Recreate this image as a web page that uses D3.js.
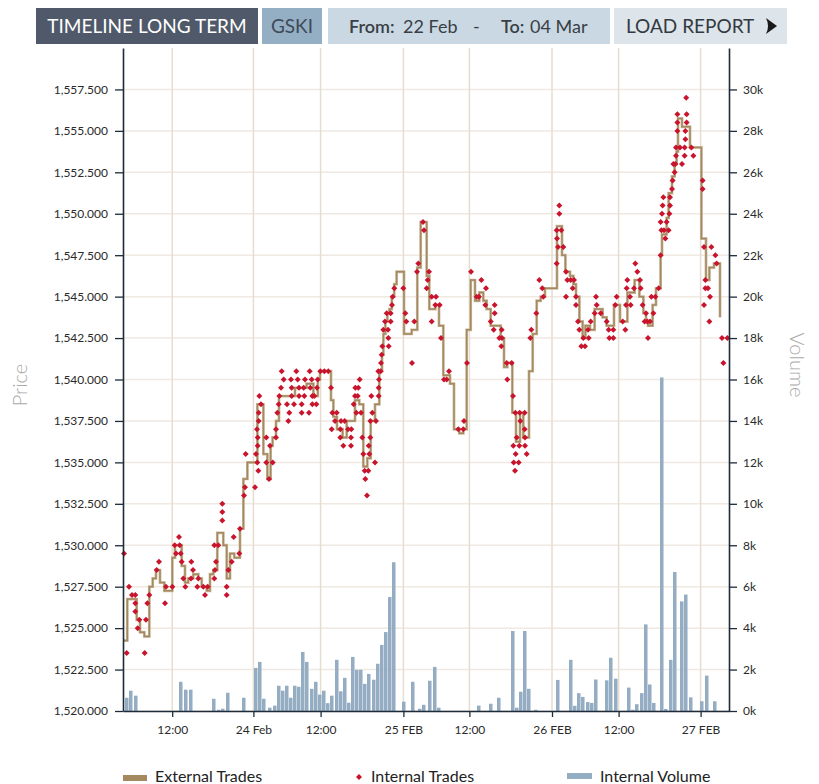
<!DOCTYPE html>
<html>
<head>
<meta charset="utf-8">
<script src="https://cdn.jsdelivr.net/npm/d3@7/dist/d3.min.js"></script>
<style>
  html, body { margin: 0; padding: 0; background: #fff; }
  svg { display: block; font-family: Lato, "Open Sans", sans-serif; }
</style>
</head>
<body>
<svg id="chart" width="819" height="784"></svg>
<script>
// x is a trading period index (one period = one volume bin)
const timeTicks = [11.8, 32.1, 48.9, 69.6, 86.1, 106.75, 123.4, 143.9];
const timeLabels = ["12:00", "24 Feb", "12:00", "25 FEB", "12:00", "26 FEB", "12:00", "27 FEB"];
const priceTicks = [1520, 1522.5, 1525, 1527.5, 1530, 1532.5, 1535, 1537.5, 1540, 1542.5, 1545, 1547.5, 1550, 1552.5, 1555, 1557.5];
const volumeTicks = [0, 2, 4, 6, 8, 10, 12, 14, 16, 18, 20, 22, 24, 26, 28, 30];

// external trades: [period, price], drawn as a step line
const externalTrades = [
  [-0.25, 1524.25], [0.58, 1526.75], [2.92, 1525.5], [3.75, 1524.75], [4.83, 1524.5],
  [6.08, 1527.5], [6.92, 1528], [7.75, 1528.5], [8.75, 1527.75], [9.83, 1527.25],
  [11.83, 1529.25], [12.5, 1530], [14.17, 1528.75], [15, 1527.75], [15.83, 1528],
  [17.08, 1528.25], [18.33, 1528], [19.17, 1527.5], [20.42, 1527.25], [21.25, 1528.25],
  [22.08, 1528.5], [23.08, 1530.75], [24.58, 1530], [25.42, 1528], [26.25, 1529.5],
  [27.33, 1529.25], [28.75, 1531], [29.6, 1534], [30.6, 1535], [33.1, 1538.5],
  [34.6, 1535.5], [35.6, 1534], [36.4, 1536], [36.9, 1536.5], [37.75, 1537.5],
  [38.5, 1539], [42.5, 1539.5], [45.4, 1539.75], [47.1, 1539], [48.2, 1540],
  [48.75, 1540.5], [51.5, 1538.75], [52.1, 1537.75], [53, 1537], [54.4, 1536.5],
  [55.42, 1537.5], [57.5, 1538.75], [58.58, 1538.5], [59.58, 1534.75], [60.58, 1535.25],
  [61.42, 1537.5], [62.5, 1538.5], [63.58, 1540.5], [64.25, 1541.5], [64.6, 1542.75],
  [65.1, 1543.5], [65.6, 1544], [66.1, 1544.25], [66.7, 1545], [67.3, 1545.75],
  [67.9, 1546.5], [69.75, 1542.75], [71.67, 1543], [73.08, 1546.75], [73.92, 1549.5],
  [75.42, 1546.25], [76.08, 1544.25], [77.58, 1544.5], [78.5, 1543.25], [79.58, 1540.25],
  [81.25, 1539.75], [82.25, 1537], [83.58, 1536.75], [84.58, 1537], [85.42, 1543],
  [86.42, 1546], [87.5, 1544.75], [88.58, 1545.25], [89.58, 1544.75], [90.42, 1544.25],
  [91.42, 1543.25], [93.92, 1542.5], [94.75, 1540.75], [95.58, 1541], [96.83, 1538],
  [97.75, 1536.25], [98.75, 1538], [99.58, 1536.5], [101, 1540.5], [101.92, 1542.75],
  [102.92, 1544.75], [103.92, 1545], [105, 1545.5], [108, 1549.25], [109.25, 1547.5],
  [110.1, 1546.5], [111.25, 1546.25], [112.1, 1545.75], [112.75, 1545], [113.6, 1543.5],
  [114.4, 1542.5], [115.1, 1543.25], [116.25, 1543], [117.4, 1544.25], [119.4, 1543.75],
  [120.4, 1543.25], [122.25, 1544.5], [123.75, 1543.5], [125.6, 1545.25], [127.4, 1546],
  [128.6, 1545], [129.6, 1544], [130.25, 1543.5], [130.75, 1543.25], [131.9, 1544.5],
  [132.75, 1545.5], [133.9, 1547.5], [134.25, 1548.75], [135.4, 1549.75], [135.9, 1551.25],
  [136.75, 1552.25], [137.4, 1553], [137.9, 1553.75], [138.25, 1555.75], [139.25, 1555.25],
  [141.25, 1554], [144.1, 1548.5], [145.25, 1546], [146.1, 1546.75], [147.25, 1547],
  [148.75, 1543.75]
];

// internal trades: [period, price]
const internalTrades = [
  [-0.25, 1529.5], [0.42, 1523.5], [1, 1527.5], [1.75, 1527], [2.58, 1527], [2.58, 1526.5],
  [2.58, 1526], [3.17, 1525], [3.58, 1525.5], [4.92, 1523.5], [5.25, 1525.5], [5.58, 1526.5],
  [6.08, 1527], [7.92, 1528.5], [8.5, 1529], [10, 1526.5], [10.25, 1527.5], [11.83, 1527.5],
  [12.42, 1530], [12.75, 1529.5], [13.5, 1530.5], [13.67, 1530], [13.92, 1529.5], [14.17, 1529],
  [14.58, 1528], [15.08, 1527.5], [16.5, 1528], [16.58, 1529], [17, 1528.5], [18.08, 1527.5],
  [18.33, 1528], [19.58, 1527.5], [20, 1527], [20.67, 1527.5], [22.33, 1528], [22.33, 1530],
  [22.5, 1528.5], [22.75, 1529], [23.33, 1530], [24.33, 1532.5], [24.33, 1532], [24.33, 1531.5],
  [25.42, 1527], [25.42, 1527.5], [25.83, 1528.5], [26.67, 1529], [27.17, 1530.5], [28.58, 1529.5],
  [28.75, 1531], [29.75, 1533], [30, 1533.5], [30.17, 1535.5], [32.5, 1533.5], [32.75, 1535.5],
  [33.08, 1535], [33.33, 1534.5], [33.17, 1536], [33.17, 1536.5], [33, 1537], [33.42, 1537.5],
  [33.42, 1538], [34, 1538.5], [33.58, 1539], [35.33, 1536.5], [35.33, 1535], [36.25, 1536],
  [36, 1534], [36.92, 1535], [37.75, 1536.5], [37.75, 1537], [38.08, 1538], [38.42, 1538.5],
  [38.58, 1539], [39, 1539.5], [39.17, 1540.5], [39.67, 1540], [40.5, 1538.5], [40.83, 1537.5],
  [41.08, 1538], [41.5, 1540], [41.67, 1539.5], [41.67, 1539], [42.25, 1538.5], [42.83, 1540.5],
  [43.17, 1540], [43.5, 1539.5], [43.5, 1539], [44.17, 1538.5], [44.17, 1538], [44.67, 1539.5],
  [44.83, 1539], [45, 1540], [46, 1538], [46.17, 1540.5], [46.33, 1539.5], [46.67, 1540],
  [46.83, 1539], [46.83, 1538.5], [47.33, 1539], [47.83, 1538.5], [48, 1539.5], [48.17, 1540],
  [48.83, 1540.5], [49.83, 1540.5], [50.83, 1540.5], [51.5, 1539.5], [51.67, 1537], [51.83, 1538],
  [52.5, 1537.5], [52.92, 1538], [53.83, 1537], [53.83, 1536.5], [54, 1537.5], [54.58, 1536],
  [54.92, 1537.5], [55.75, 1537], [56.5, 1536.5], [56.58, 1537], [56.5, 1536], [57.17, 1538.5],
  [57.5, 1539], [57.58, 1539.5], [58.17, 1539], [58.33, 1539.5], [58.67, 1540], [57.83, 1538],
  [59, 1538], [59.33, 1536.5], [59.58, 1535.5], [59.92, 1534.5], [60.08, 1534], [60.5, 1533],
  [60.83, 1534.5], [61.08, 1535.5], [60.92, 1536], [61.33, 1536.5], [61.33, 1537.5], [61.83, 1538],
  [61.58, 1539], [62.5, 1535], [62.75, 1537.5], [63.42, 1539], [63.42, 1539.5], [63.5, 1540],
  [63.33, 1540.5], [63.92, 1540.5], [64, 1541], [64.17, 1541.5], [64.33, 1542], [64.58, 1543],
  [65, 1543.5], [65.42, 1544], [65.75, 1543], [65.83, 1542.5], [65.92, 1542], [66.42, 1544],
  [66.42, 1543.5], [66.75, 1544.5], [66.92, 1545], [67.33, 1545.5], [69.58, 1545.5], [70.08, 1544],
  [70.33, 1543.5], [71.75, 1541], [72.33, 1543.5], [73, 1546.5], [73.33, 1547], [74.5, 1549.5],
  [74.75, 1549], [76, 1546.5], [75.67, 1546], [75.42, 1545.5], [76.67, 1545], [77.75, 1545],
  [77.58, 1544.5], [78.67, 1544.5], [76.67, 1543.5], [79, 1542.5], [79.75, 1540], [80.42, 1540],
  [81, 1540.5], [83.33, 1537], [84.58, 1537], [84.75, 1537.5], [85.5, 1541], [86.5, 1546.5],
  [87.92, 1545], [88.5, 1545], [89.08, 1546], [90.25, 1545.5], [90.08, 1544.5], [91.42, 1543.5],
  [92.17, 1543], [92.42, 1544.5], [92.42, 1544], [93.58, 1542.5], [94.17, 1543], [94.25, 1542.5],
  [94.08, 1542], [95.42, 1541], [96.67, 1541], [95.58, 1540], [97, 1539], [97.58, 1538],
  [98.67, 1538], [99.92, 1538], [98.83, 1537.5], [97.92, 1536.5], [97.08, 1536], [97.67, 1535.5],
  [97.17, 1535], [98.42, 1535], [97.5, 1534.5], [98.58, 1536], [99.92, 1537], [100, 1536.5],
  [100, 1536], [100.42, 1535.5], [101.33, 1542.5], [101.58, 1543], [102.83, 1544], [103.58, 1546],
  [104.33, 1545.5], [104.58, 1545], [107.92, 1549], [108, 1548.5], [108.25, 1548], [107.92, 1547],
  [108.58, 1550.5], [108.58, 1550], [109.08, 1549], [109.58, 1548], [110.25, 1546.5], [110.25, 1545],
  [110.58, 1546], [111.42, 1546], [111.92, 1545.5], [112.25, 1546], [112.75, 1545], [112.75, 1544.5],
  [113.25, 1543.5], [113.58, 1543], [114.08, 1542], [114.58, 1542.5], [115, 1542], [115.75, 1543],
  [115.92, 1542.5], [116.42, 1543.5], [117.42, 1544], [117.75, 1545], [117.92, 1544.5], [118.92, 1544],
  [120.42, 1543.5], [120.92, 1543], [121.08, 1542.5], [122.08, 1542.5], [122.08, 1543], [122.58, 1544.5],
  [122.92, 1545], [124.42, 1543.5], [125.08, 1543], [125.25, 1544.5], [125.42, 1545.5], [125.58, 1546],
  [126.25, 1545], [126.42, 1544.5], [127.25, 1545.5], [127.58, 1547], [128.08, 1546.5], [128.75, 1546],
  [128.92, 1545.5], [129.4, 1544.5], [130.25, 1544], [129.9, 1543.5], [130.6, 1543.5], [131.25, 1543.5],
  [130.75, 1542.5], [131.6, 1545], [132.1, 1544], [132.6, 1545], [133.4, 1545.5], [133.9, 1547.5],
  [133.9, 1549.5], [134.1, 1549], [134.25, 1550], [134.4, 1550.5], [134.6, 1551], [134.75, 1549],
  [135.1, 1548.5], [135.4, 1549.5], [135.9, 1549], [136.1, 1550], [136.25, 1550.5], [136.25, 1551],
  [136.75, 1551.5], [136.9, 1552], [137.4, 1552.5], [137.1, 1553], [137.6, 1553], [137.75, 1553.5],
  [137.75, 1554], [138.1, 1555], [138.1, 1555.5], [138.1, 1556], [138.75, 1554], [139.25, 1553],
  [139.9, 1554], [139.9, 1553.5], [140.1, 1554.5], [140.1, 1555], [140.4, 1555.5], [140.4, 1556],
  [140.3, 1557], [141.6, 1554], [142.1, 1553.5], [144.4, 1552], [144.4, 1551.5], [144.75, 1548],
  [146.6, 1548], [145.1, 1546], [145.1, 1545.5], [145.75, 1545.5], [146.25, 1545], [144.75, 1544.5],
  [146.1, 1543.5], [147.6, 1547.5], [147.9, 1547], [149.25, 1542.5], [150.6, 1542.5], [149.6, 1541]
];

// internal volume: [period, thousands]
const internalVolume = [
  [0, 0.64], [1, 0.98], [2.25, 0.74], [13.5, 1.41], [14.75, 1.03], [16, 1.03], [21.75, 0.59],
  [23, 0.06], [24, 0.11], [25.25, 0.88], [29.25, 0.64], [32.25, 2.08], [33.25, 2.37], [34.25, 0.59],
  [35.75, 0.16], [37, 0.26], [38, 1.22], [39, 0.98], [40, 1.22], [41, 0.64], [42, 1.22], [43, 1.17],
  [44, 2.85], [45, 2.37], [46.25, 1.07], [47.25, 1.41], [48.25, 0.79], [49.25, 0.98], [50.25, 0.38],
  [51.25, 0.74], [52.5, 2.47], [53.5, 0.95], [54.5, 1.6], [55.5, 0.4], [56.5, 2.61], [57.5, 1.99],
  [58.5, 1.99], [59.5, 1.31], [60.5, 1.79], [61.75, 1.51], [62.75, 2.28], [63.75, 3.19], [64.75, 3.81],
  [65.75, 5.5], [66.75, 7.18], [69.25, 0.45], [71.5, 1.41], [73.25, 0.11], [74.25, 0.3], [75.75, 1.46],
  [77, 2.13], [78, 0.16], [88, 0.26], [91, 0.35], [93, 0.64], [96.5, 3.86], [97.5, 0.16], [98.5, 0.93],
  [99.5, 3.86], [100.5, 1.07], [102.25, 0.06], [107.75, 1.5], [111, 2.47], [112, 0.25], [113, 0.86],
  [114, 0.68], [115.25, 0.43], [116.25, 0.39], [117.25, 1.52], [120, 1.48], [121, 2.57], [122.25, 1.56],
  [125.5, 1.13], [126.5, 0.06], [127.5, 0.33], [128.75, 0.86], [129.75, 4.18], [130.75, 1.28],
  [131.75, 0.39], [133.75, 16.1], [134.75, 0.1], [136, 2.47], [137, 6.71], [138.75, 5.29],
  [139.75, 5.62], [141, 0.66], [143.75, 0.47], [145, 1.71], [147, 0.47]
];

const svg = d3.select("#chart");
const margin = { top: 48, right: 90, bottom: 73, left: 123 },
  width = 819 - margin.left - margin.right,
  height = 784 - margin.top - margin.bottom;

const xScale = d3.scaleLinear().domain([-0.5, 151]).range([0, width]);
const yPrice = d3.scaleLinear().domain([1520, 1560]).range([height, 0]);
const yVolume = d3.scaleLinear().domain([0, 32]).range([height, 0]);

// header buttons
const header = svg.append("g").attr("class", "header");
const buttons = [
  { x: 36, w: 222, fill: "#4f5969" },
  { x: 262, w: 60, fill: "#94aec4" },
  { x: 328, w: 282, fill: "#c9d8e3" },
  { x: 614, w: 173, fill: "#dde4ea" }
];
header.selectAll("rect")
  .data(buttons)
  .enter()
  .append("rect")
  .attr("x", (d) => d.x)
  .attr("y", 8)
  .attr("width", (d) => d.w)
  .attr("height", 36)
  .attr("fill", (d) => d.fill);

header.append("text").attr("x", 147).attr("y", 33).attr("text-anchor", "middle")
  .style("font-size", "19px").attr("fill", "#fff").text("TIMELINE LONG TERM");
header.append("text").attr("x", 292).attr("y", 33).attr("text-anchor", "middle")
  .style("font-size", "19px").attr("fill", "#3f4a58").text("GSKI");

const range = header.append("text").attr("y", 33).style("font-size", "18px").attr("fill", "#3a3f46");
range.append("tspan").attr("x", 349).style("font-weight", 600).text("From:");
range.append("tspan").attr("x", 403).text("22 Feb");
range.append("tspan").attr("x", 473).text("-");
range.append("tspan").attr("x", 501).style("font-weight", 600).text("To:");
range.append("tspan").attr("x", 530).text("04 Mar");

header.append("text").attr("x", 626).attr("y", 33)
  .style("font-size", "19px").attr("fill", "#333a42").text("LOAD REPORT");
header.append("path")
  .attr("d", "M766,18 L777,26 L766,34 Q770,26 766,18 Z")
  .attr("fill", "#1a1a1a");

const g = svg.append("g").attr("transform", `translate(${margin.left},${margin.top})`);

// grid
g.append("g").attr("class", "grid-h")
  .selectAll("line")
  .data(priceTicks)
  .enter()
  .append("line")
  .attr("x1", 0).attr("x2", width)
  .attr("y1", (d) => yPrice(d)).attr("y2", (d) => yPrice(d))
  .attr("stroke", "#efe9e2").attr("stroke-width", 1.5);

g.append("g").attr("class", "grid-v")
  .selectAll("line")
  .data(timeTicks)
  .enter()
  .append("line")
  .attr("x1", (d) => xScale(d)).attr("x2", (d) => xScale(d))
  .attr("y1", 0).attr("y2", height)
  .attr("stroke", "#e6ddd1").attr("stroke-width", 1.5);

// volume bars
const barW = xScale(0.88) - xScale(0);
g.append("g").attr("class", "volume")
  .selectAll("rect")
  .data(internalVolume)
  .enter()
  .append("rect")
  .attr("x", (d) => xScale(d[0]))
  .attr("y", (d) => yVolume(d[1]))
  .attr("width", barW)
  .attr("height", (d) => height - yVolume(d[1]))
  .attr("fill", "#94adc3");

// external trades step line
const line = d3.line()
  .x((d) => xScale(d[0]))
  .y((d) => yPrice(d[1]))
  .curve(d3.curveStepAfter);

g.append("path")
  .datum(externalTrades)
  .attr("fill", "none")
  .attr("stroke", "#cdbb9e")
  .attr("stroke-width", 2.8)
  .attr("d", line);
g.append("path")
  .datum(externalTrades)
  .attr("fill", "none")
  .attr("stroke", "#a38961")
  .attr("stroke-width", 1.5)
  .attr("d", line);

// internal trades
const diamond = d3.symbol().type(d3.symbolSquare).size(18);
g.append("g").attr("class", "internal")
  .selectAll("path")
  .data(internalTrades)
  .enter()
  .append("path")
  .attr("d", diamond)
  .attr("transform", (d) => `translate(${xScale(d[0])},${yPrice(d[1])}) rotate(45)`)
  .attr("fill", "#c8142c");

// axes
const styleAxis = (sel) => {
  sel.select(".domain").attr("stroke", "#1d2b3a").attr("stroke-width", 1.6);
  sel.selectAll(".tick line").attr("stroke", "#1d2b3a").attr("stroke-width", 1.3);
  sel.selectAll(".tick text").attr("fill", "#2a2a2a").style("font-size", "12px")
    .style("font-family", "Lato, 'Open Sans', sans-serif");
};

g.append("g")
  .call(d3.axisLeft(yPrice).tickValues(priceTicks).tickFormat(d3.format(",.3f"))
    .tickSizeInner(8).tickSizeOuter(0).tickPadding(7))
  .call(styleAxis);

g.append("g")
  .attr("transform", `translate(${width},0)`)
  .call(d3.axisRight(yVolume).tickValues(volumeTicks).tickFormat((d) => d + "k")
    .tickSizeInner(8).tickSizeOuter(0).tickPadding(6))
  .call(styleAxis);

g.append("g")
  .attr("transform", `translate(0,${height})`)
  .call(d3.axisBottom(xScale).tickValues(timeTicks).tickFormat((d, i) => timeLabels[i])
    .tickSizeInner(6).tickSizeOuter(0).tickPadding(8))
  .call(styleAxis);

// axis titles
svg.append("text")
  .attr("transform", "translate(27,385) rotate(-90)")
  .attr("text-anchor", "middle")
  .style("font-size", "20px").style("font-weight", 300)
  .attr("fill", "#a9a9a9").text("Price");
svg.append("text")
  .attr("transform", "translate(790,365) rotate(90)")
  .attr("text-anchor", "middle")
  .style("font-size", "20px").style("font-weight", 300)
  .attr("fill", "#a9a9a9").text("Volume");

// legend
const legend = svg.append("g").attr("class", "legend");
legend.append("rect").attr("x", 123).attr("y", 775).attr("width", 24).attr("height", 6).attr("fill", "#a48960");
legend.append("text").attr("x", 155).attr("y", 782).style("font-size", "16px").attr("fill", "#222").text("External Trades");
legend.append("path").attr("d", d3.symbol().type(d3.symbolSquare).size(18))
  .attr("transform", "translate(359,777) rotate(45)").attr("fill", "#c8142c");
legend.append("text").attr("x", 371).attr("y", 782).style("font-size", "16px").attr("fill", "#222").text("Internal Trades");
legend.append("rect").attr("x", 567).attr("y", 773).attr("width", 25).attr("height", 6).attr("fill", "#94adc3");
legend.append("text").attr("x", 600).attr("y", 782).style("font-size", "16px").attr("fill", "#222").text("Internal Volume");
</script>
</body>
</html>
